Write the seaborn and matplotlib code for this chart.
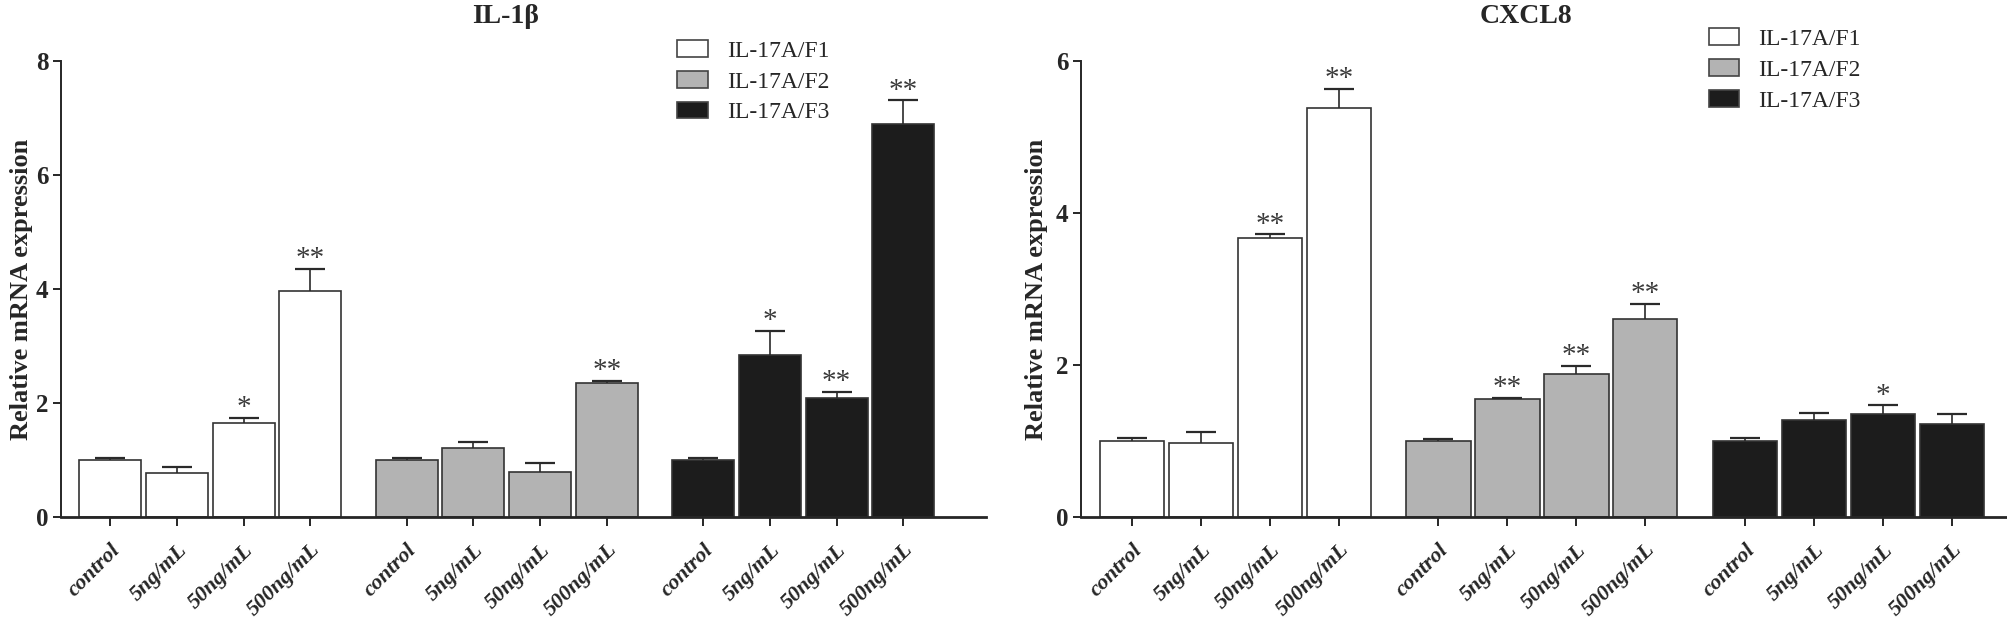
import numpy as np
import pandas as pd
import seaborn as sns
import matplotlib.pyplot as plt
from matplotlib.patches import Patch
from matplotlib.transforms import ScaledTranslation

# data
fractions = ['IL-17A/F1', 'IL-17A/F2', 'IL-17A/F3']
concs = ['control', '5ng/mL', '50ng/mL', '500ng/mL']

il1b_mean = [[1.00, 0.78, 1.65, 3.97],
             [1.00, 1.21, 0.79, 2.35],
             [1.00, 2.84, 2.09, 6.89]]
il1b_err = [[0.04, 0.10, 0.09, 0.38],
            [0.04, 0.11, 0.16, 0.04],
            [0.04, 0.42, 0.11, 0.42]]
il1b_stars = [['', '', '*', '**'],
              ['', '', '', '**'],
              ['', '*', '**', '**']]

cxcl8_mean = [[1.00, 0.98, 3.67, 5.38],
              [1.00, 1.55, 1.88, 2.60],
              [1.00, 1.28, 1.36, 1.22]]
cxcl8_err = [[0.04, 0.14, 0.05, 0.25],
             [0.03, 0.02, 0.11, 0.20],
             [0.04, 0.09, 0.11, 0.14]]
cxcl8_stars = [['', '', '**', '**'],
               ['', '**', '**', '**'],
               ['', '', '*', '']]

fill_colors = ['#ffffff', '#b3b3b3', '#1c1c1c']
edge_col = '#333333'

sns.set_style('ticks')
plt.rcParams['font.family'] = ['Liberation Serif', 'DejaVu Serif']

fig = plt.figure(figsize=(20.08, 6.23), dpi=100)


def draw_panel(rect, title, means, errs, stars, ymax, xlim, leg_anchor, ylab_x):
    ax = fig.add_axes(rect)
    df = pd.DataFrame([
        {'fraction': f, 'conc': c, 'value': means[i][j]}
        for i, f in enumerate(fractions) for j, c in enumerate(concs)
    ])
    sns.barplot(data=df, x='fraction', y='value', hue='conc', hue_order=concs,
                order=fractions, width=0.9, gap=0.07, errorbar=None,
                palette=['#ffffff'] * 4, edgecolor=edge_col, linewidth=1.2,
                legend=False, ax=ax)

    # recolour bars by fraction, collect bar centres
    centers, labels, tops, errlist, starlist = [], [], [], [], []
    for j, cont in enumerate(ax.containers):
        for i, bar in enumerate(cont):
            bar.set_facecolor(fill_colors[i])
            bar.set_edgecolor(edge_col)
            cx = bar.get_x() + bar.get_width() / 2
            centers.append(cx)
            labels.append(concs[j])
            tops.append(bar.get_height())
            errlist.append(errs[i][j])
            starlist.append(stars[i][j])

    eb = ax.errorbar(centers, tops, yerr=[np.zeros(len(errlist)), errlist],
                     fmt='none', ecolor='#2a2a2a', elinewidth=1.2,
                     capsize=11, capthick=1.6, zorder=5)
    eb[1][0].set_visible(False)

    for cx, t, e, s in zip(centers, tops, errlist, starlist):
        if s:
            ax.annotate(s, (cx, t + e), xytext=(0, 2), textcoords='offset points',
                        ha='center', va='baseline', fontsize=21, color='#3a3a3a')

    order = np.argsort(centers)
    ax.set_xticks(np.array(centers)[order])
    ax.set_xticklabels(np.array(labels)[order], rotation=45, ha='right',
                       rotation_mode='anchor', fontweight='bold',
                       fontstyle='italic', fontsize=16)
    shift = ScaledTranslation(6 / 72, 0, fig.dpi_scale_trans)
    for lab in ax.get_xticklabels():
        lab.set_transform(lab.get_transform() + shift)
    ax.set_xlim(*xlim)
    ax.set_ylim(0, ymax)
    ax.set_yticks(np.arange(0, ymax + 1, 2))
    ax.tick_params(axis='y', labelsize=18, length=6, width=1.4, pad=3)
    ax.tick_params(axis='x', length=6.5, width=1.4, pad=10)
    for t in ax.get_yticklabels():
        t.set_fontweight('bold')
    ax.set_xlabel('')
    ax.set_ylabel('Relative mRNA expression', fontsize=19, fontweight='bold')
    ax.yaxis.set_label_coords(ylab_x, 0.5)
    sns.despine(ax=ax)
    ax.spines['left'].set_linewidth(1.4)
    ax.spines['bottom'].set_linewidth(2.0)

    ax.text(0.48, 1.083, title, transform=ax.transAxes, ha='center',
            va='baseline', fontsize=20, fontweight='bold')

    handles = [Patch(facecolor=c, edgecolor='#444444', linewidth=1.2)
               for c in fill_colors]
    ax.legend(handles, fractions, loc='upper left', bbox_to_anchor=leg_anchor,
              frameon=False, borderpad=0, borderaxespad=0, handlelength=1.3,
              handleheight=0.7, labelspacing=0.4, handletextpad=0.8,
              prop={'size': 17})
    return ax


draw_panel([0.0304, 0.1701, 0.4607, 0.732], 'IL-1β', il1b_mean, il1b_err,
           il1b_stars, 8, (-0.503, 2.617), (0.666, 1.046), -0.030)
draw_panel([0.5383, 0.1701, 0.4617, 0.732], 'CXCL8', cxcl8_mean, cxcl8_err,
           cxcl8_stars, 6, (-0.5035, 2.52), (0.677, 1.072), -0.036)

fig.savefig('out.png', dpi=100)
